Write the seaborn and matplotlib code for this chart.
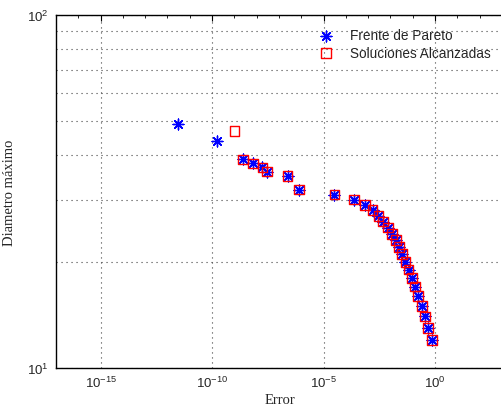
import matplotlib
matplotlib.use('Agg')
import matplotlib.pyplot as plt
import matplotlib.ticker as mticker
import seaborn as sns

# Frente de Pareto (estrellas azules)
pareto_error = [2.95e-12, 1.62e-10, 2.4e-9, 6.8e-9, 1.8e-8, 2.9e-8, 2.45e-7, 7.9e-7,
                3.1e-5, 2.4e-4, 7.2e-4, 1.6e-3, 2.9e-3, 4.7e-3, 7.8e-3, 0.0117,
                0.0178, 0.024, 0.034, 0.047, 0.065, 0.091, 0.129, 0.174, 0.257,
                0.355, 0.49, 0.74]
pareto_diam = [49, 44, 39, 38, 37, 36, 35, 32, 31, 30, 29, 28, 27, 26, 25, 24,
               23, 22, 21, 20, 19, 18, 17, 16, 15, 14, 13, 12]

# Soluciones alcanzadas (cuadrados rojos)
sol_error = [1.02e-9, 2.4e-9, 6.8e-9, 1.8e-8, 2.9e-8, 2.45e-7, 7.9e-7,
             3.1e-5, 2.4e-4, 7.2e-4, 1.6e-3, 2.9e-3, 4.7e-3, 7.8e-3, 0.0117,
             0.0178, 0.024, 0.034, 0.047, 0.065, 0.091, 0.129, 0.174, 0.257,
             0.355, 0.49, 0.74]
sol_diam = [47, 39, 38, 37, 36, 35, 32, 31, 30, 29, 28, 27, 26, 25, 24,
            23, 22, 21, 20, 19, 18, 17, 16, 15, 14, 13, 12]

x_ticks = [1e-15, 1e-10, 1e-5, 1e0]

sns.set_style('white')
plt.rcParams['font.family'] = ['Liberation Sans', 'DejaVu Sans']
plt.rcParams['mathtext.default'] = 'regular'

fig = plt.figure(figsize=(5.01, 4.10), dpi=100)
ax = fig.add_axes([56 / 501, 1 - 369 / 410, 447 / 501, 353 / 410])

sns.scatterplot(x=pareto_error, y=pareto_diam, ax=ax, marker=(8, 2, 0), s=60,
                color='blue', edgecolor='blue', linewidth=1.0,
                label='Frente de Pareto', zorder=3)
sns.scatterplot(x=sol_error, y=sol_diam, ax=ax, marker='s', s=48,
                facecolor='none', edgecolor='red', linewidth=1.0,
                label='Soluciones Alcanzadas', zorder=4)

ax.set_xscale('log')
ax.set_yscale('log')
ax.set_xlim(1e-17, 10 ** 3.05)
ax.set_ylim(10, 100)

ax.xaxis.set_major_locator(mticker.FixedLocator(x_ticks))
ax.xaxis.set_major_formatter(mticker.LogFormatterSciNotation())
ax.xaxis.set_minor_locator(mticker.LogLocator(base=10, subs=(1.0,), numticks=30))
ax.xaxis.set_minor_formatter(mticker.NullFormatter())
ax.yaxis.set_major_locator(mticker.FixedLocator([10, 100]))
ax.yaxis.set_minor_locator(mticker.LogLocator(base=10, subs=range(2, 10), numticks=10))
ax.yaxis.set_minor_formatter(mticker.NullFormatter())

ax.tick_params(which='major', direction='in', length=4, width=0.8,
               labelsize=9.5, top=True, right=False, pad=5, color='black')
ax.tick_params(which='minor', direction='in', length=2, width=0.6,
               top=True, right=False, color='black')

grid_style = dict(linestyle=(0, (1, 3.5)), color='#444444', linewidth=0.8)
ax.grid(True, which='major', axis='both', **grid_style)
ax.grid(True, which='minor', axis='y', **grid_style)

for side in ['left', 'bottom', 'top']:
    ax.spines[side].set_color('black')
    ax.spines[side].set_linewidth(1.0)
ax.spines['right'].set_visible(False)

ax.set_xlabel('Error', family='Liberation Serif', fontsize=10.5, labelpad=2)
ax.set_ylabel('Diametro máximo', family='Liberation Serif', fontsize=10.5, labelpad=8)

ax.legend(loc='upper left', bbox_to_anchor=(307 / 501, 1 - 24 / 410),
          bbox_transform=fig.transFigure, frameon=False, fontsize=9.8,
          handletextpad=0.75, labelspacing=0.25, borderaxespad=0)

fig.savefig('out.png', dpi=100)
